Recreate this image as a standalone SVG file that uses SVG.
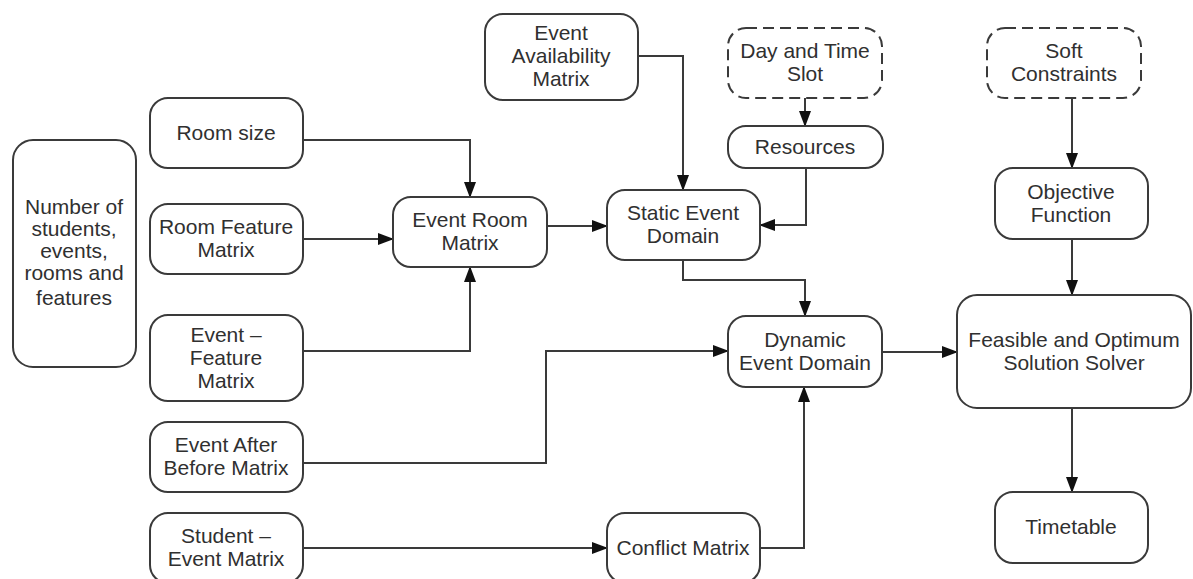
<svg xmlns="http://www.w3.org/2000/svg" width="1193" height="579" viewBox="0 0 1193 579">
  <style>
    .box { fill: #ffffff; stroke: #3a3a3a; stroke-width: 2; }
    .dash { stroke-dasharray: 11 6; }
    .lbl { font-family: "Liberation Sans", Arial, sans-serif; font-size: 21px; fill: #303030; text-anchor: middle; }
    .wire { fill: none; stroke: #3a3a3a; stroke-width: 2; marker-end: url(#arrow); }
  </style>
  <defs>
    <marker id="arrow" markerUnits="userSpaceOnUse" markerWidth="16" markerHeight="12" viewBox="0 0 16 12" refX="15" refY="6" orient="auto">
      <path d="M0,0 L16,6 L0,12 z" fill="#111111"/>
    </marker>
  </defs>
  <rect width="1193" height="579" fill="#ffffff"/>

  <!-- connectors -->
  <g id="connectors">
    <path class="wire" d="M303,140 H470 V197"/>
    <path class="wire" d="M303,239 H393"/>
    <path class="wire" d="M303,351 H470 V267"/>
    <path class="wire" d="M547,226 H607"/>
    <path class="wire" d="M638,56 H683 V190"/>
    <path class="wire" d="M805,98 V126"/>
    <path class="wire" d="M806,168 V225 H760"/>
    <path class="wire" d="M683,260 V280 H805 V316"/>
    <path class="wire" d="M303,463 H546 V351 H728"/>
    <path class="wire" d="M303,548 H607"/>
    <path class="wire" d="M760,548 H804 V387"/>
    <path class="wire" d="M882,352 H957"/>
    <path class="wire" d="M1072,98 V168"/>
    <path class="wire" d="M1072,239 V295"/>
    <path class="wire" d="M1072,408 V492"/>
  </g>

  <!-- nodes -->
  <g id="n-counts">
    <rect class="box" x="13" y="140" width="123" height="227" rx="20"/>
    <text class="lbl" x="74" y="214">Number of</text>
    <text class="lbl" x="74" y="236">students,</text>
    <text class="lbl" x="74" y="258">events,</text>
    <text class="lbl" x="74" y="280">rooms and</text>
    <text class="lbl" x="74" y="305">features</text>
  </g>
  <g id="n-room-size">
    <rect class="box" x="150" y="98" width="153" height="70" rx="18"/>
    <text class="lbl" x="226" y="140">Room size</text>
  </g>
  <g id="n-room-feature">
    <rect class="box" x="150" y="204" width="153" height="70" rx="18"/>
    <text class="lbl" x="226" y="234">Room Feature</text>
    <text class="lbl" x="226" y="257">Matrix</text>
  </g>
  <g id="n-event-feature">
    <rect class="box" x="150" y="315" width="153" height="86" rx="18"/>
    <text class="lbl" x="226" y="342">Event –</text>
    <text class="lbl" x="226" y="365">Feature</text>
    <text class="lbl" x="226" y="388">Matrix</text>
  </g>
  <g id="n-after-before">
    <rect class="box" x="150" y="422" width="153" height="70" rx="18"/>
    <text class="lbl" x="226" y="452">Event After</text>
    <text class="lbl" x="226" y="475">Before Matrix</text>
  </g>
  <g id="n-student-event">
    <rect class="box" x="150" y="513" width="153" height="70" rx="18"/>
    <text class="lbl" x="226" y="543">Student –</text>
    <text class="lbl" x="226" y="566">Event Matrix</text>
  </g>
  <g id="n-event-room">
    <rect class="box" x="393" y="197" width="154" height="70" rx="18"/>
    <text class="lbl" x="470" y="227">Event Room</text>
    <text class="lbl" x="470" y="250">Matrix</text>
  </g>
  <g id="n-availability">
    <rect class="box" x="485" y="14" width="153" height="86" rx="18"/>
    <text class="lbl" x="561" y="40">Event</text>
    <text class="lbl" x="561" y="63">Availability</text>
    <text class="lbl" x="561" y="86">Matrix</text>
  </g>
  <g id="n-static">
    <rect class="box" x="607" y="190" width="153" height="70" rx="18"/>
    <text class="lbl" x="683" y="220">Static Event</text>
    <text class="lbl" x="683" y="243">Domain</text>
  </g>
  <g id="n-day-time">
    <rect class="box dash" x="728" y="28" width="154" height="70" rx="18"/>
    <text class="lbl" x="805" y="58">Day and Time</text>
    <text class="lbl" x="805" y="81">Slot</text>
  </g>
  <g id="n-resources">
    <rect class="box" x="728" y="126" width="155" height="42" rx="18"/>
    <text class="lbl" x="805" y="154">Resources</text>
  </g>
  <g id="n-dynamic">
    <rect class="box" x="728" y="316" width="154" height="71" rx="18"/>
    <text class="lbl" x="805" y="347">Dynamic</text>
    <text class="lbl" x="805" y="370">Event Domain</text>
  </g>
  <g id="n-conflict">
    <rect class="box" x="607" y="513" width="153" height="70" rx="18"/>
    <text class="lbl" x="683" y="555">Conflict Matrix</text>
  </g>
  <g id="n-soft">
    <rect class="box dash" x="987" y="28" width="154" height="70" rx="18"/>
    <text class="lbl" x="1064" y="58">Soft</text>
    <text class="lbl" x="1064" y="81">Constraints</text>
  </g>
  <g id="n-objective">
    <rect class="box" x="995" y="168" width="153" height="71" rx="18"/>
    <text class="lbl" x="1071" y="199">Objective</text>
    <text class="lbl" x="1071" y="222">Function</text>
  </g>
  <g id="n-solver">
    <rect class="box" x="957" y="295" width="234" height="113" rx="20"/>
    <text class="lbl" x="1074" y="347">Feasible and Optimum</text>
    <text class="lbl" x="1074" y="370">Solution Solver</text>
  </g>
  <g id="n-timetable">
    <rect class="box" x="995" y="492" width="153" height="71" rx="18"/>
    <text class="lbl" x="1071" y="534">Timetable</text>
  </g>
</svg>
